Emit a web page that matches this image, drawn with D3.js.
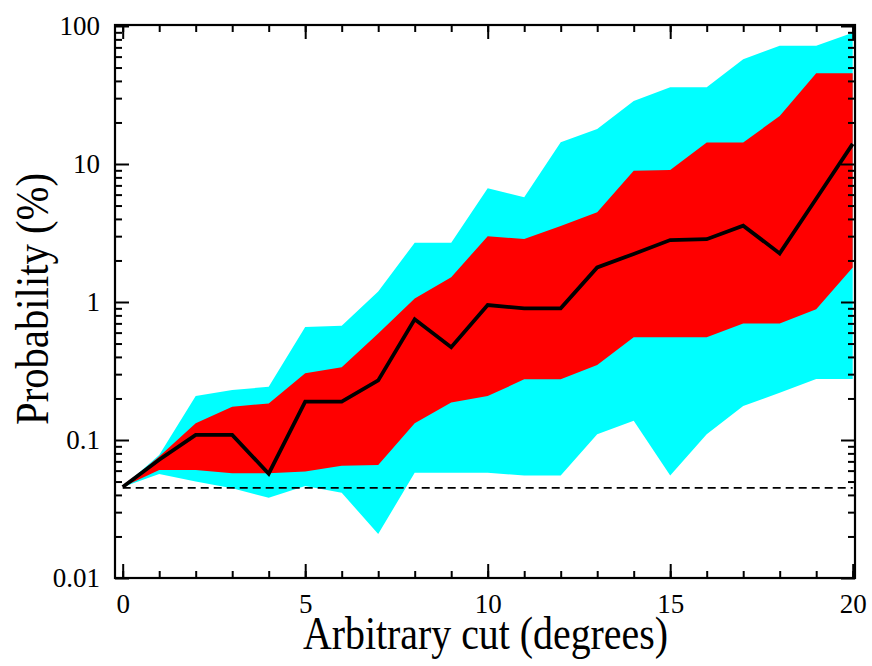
<!DOCTYPE html>
<html>
<head>
<meta charset="utf-8">
<script src="https://cdn.jsdelivr.net/npm/d3@7"></script>
<style>
  html, body { margin: 0; padding: 0; background: #fff; }
  svg text { font-family: "Liberation Serif", "Times New Roman", serif; fill: #000; }
</style>
</head>
<body>
<svg id="chart" width="872" height="666" font-family="Liberation Serif, serif"></svg>
<script>
// ---- data ----
const cuts        = [0,1,2,3,4,5,6,7,8,9,10,11,12,13,14,15,16,17,18,19,20];
const median      = [0.0457,0.072,0.109,0.109,0.057,0.19,0.19,0.27,0.75,0.47,0.95,0.90,0.90,1.78,2.23,2.81,2.85,3.57,2.25,5.6,14.0];
const redUpper    = [0.0457,0.076,0.132,0.174,0.184,0.304,0.336,0.59,1.06,1.51,3.0,2.86,3.55,4.47,8.95,9.05,14.3,14.3,22.3,45.4,45.4];
const redLower    = [0.0457,0.0606,0.0606,0.0574,0.0574,0.059,0.065,0.066,0.132,0.187,0.208,0.275,0.275,0.35,0.555,0.555,0.555,0.70,0.70,0.885,1.78];
const cyanUpper   = [0.0457,0.078,0.208,0.23,0.243,0.66,0.673,1.19,2.69,2.69,6.67,5.74,14.4,17.9,28.6,36.0,36.0,57.4,72.0,72.0,89.4];
const cyanLower   = [0.0457,0.0567,0.050,0.0447,0.0382,0.0464,0.0415,0.0208,0.058,0.058,0.058,0.0552,0.0552,0.11,0.138,0.0552,0.11,0.176,0.22,0.277,0.277];
const baseline    = 0.045;
const xMajorTicks = [0,5,10,15,20];
const xMinorTicks = cuts;
const yMajorTicks = [0.01,0.1,1,10,100];
const yTickLabels = ["0.01","0.1","1","10","100"];
const xTitle = "Arbitrary cut (degrees)";
const yTitle = "Probability (%)";

// ---- layout ----
const frame = {left:115, right:855, top:25, bottom:578};
const svg = d3.select("#chart");
const FONT = "Liberation Serif, Times New Roman, serif";

const x = d3.scaleLinear().domain([0,20]).range([122.7,852.7]);
const y = d3.scaleLog().domain([0.01,100]).range([578,26]);

const rows = cuts.map((c,i)=>({c, med:median[i], ru:redUpper[i], rl:redLower[i], cu:cyanUpper[i], cl:cyanLower[i]}));

const cyanArea = d3.area().x(d=>x(d.c)).y0(d=>y(d.cl)).y1(d=>y(d.cu));
const redArea  = d3.area().x(d=>x(d.c)).y0(d=>y(d.rl)).y1(d=>y(d.ru));
const medLine  = d3.line().x(d=>x(d.c)).y(d=>y(d.med));

svg.append("path").datum(rows).attr("d",cyanArea).attr("fill","#00ffff");
svg.append("path").datum(rows).attr("d",redArea).attr("fill","#ff0000");

svg.append("line")
  .attr("x1",x(0)).attr("x2",x(20))
  .attr("y1",y(baseline)).attr("y2",y(baseline))
  .attr("stroke","#000").attr("stroke-width",1.6).attr("stroke-dasharray","8,5");

svg.append("path").datum(rows).attr("d",medLine)
  .attr("fill","none").attr("stroke","#000").attr("stroke-width",3.8)
  .attr("stroke-linejoin","miter");

// ---- axes ----
const yMinorTicks = [];
[0.01,0.1,1,10].forEach(d=>{ for(let k=2;k<=9;k++) yMinorTicks.push(d*k); });

function styleAxis(g){
  g.attr("font-family",FONT);
  g.select(".domain").remove();
  g.selectAll(".tick line").attr("stroke","#000").attr("stroke-width",2);
  g.selectAll(".tick text").attr("font-size",27).attr("font-family",FONT);
}

// bottom
svg.append("g").attr("transform",`translate(0,${frame.bottom})`)
  .call(d3.axisBottom(x).tickValues(xMinorTicks).tickSizeInner(-7).tickSizeOuter(0).tickFormat(""))
  .call(styleAxis);
svg.append("g").attr("transform",`translate(0,${frame.bottom})`)
  .call(d3.axisBottom(x).tickValues(xMajorTicks).tickSizeInner(-14).tickSizeOuter(0).tickPadding(16).tickFormat(d3.format("d")))
  .call(styleAxis);
// top
svg.append("g").attr("transform",`translate(0,${frame.top})`)
  .call(d3.axisTop(x).tickValues(xMinorTicks).tickSizeInner(-7).tickSizeOuter(0).tickFormat(""))
  .call(styleAxis);
svg.append("g").attr("transform",`translate(0,${frame.top})`)
  .call(d3.axisTop(x).tickValues(xMajorTicks).tickSizeInner(-14).tickSizeOuter(0).tickFormat(""))
  .call(styleAxis);
// left
svg.append("g").attr("transform",`translate(${frame.left},0)`)
  .call(d3.axisLeft(y).tickValues(yMinorTicks).tickSizeInner(-7).tickSizeOuter(0).tickFormat(""))
  .call(styleAxis);
svg.append("g").attr("transform",`translate(${frame.left},0)`)
  .call(d3.axisLeft(y).tickValues(yMajorTicks).tickSizeInner(-14).tickSizeOuter(0).tickPadding(15)
        .tickFormat((d,i)=>yTickLabels[i]))
  .call(styleAxis);
// right
svg.append("g").attr("transform",`translate(${frame.right},0)`)
  .call(d3.axisRight(y).tickValues(yMinorTicks).tickSizeInner(-7).tickSizeOuter(0).tickFormat(""))
  .call(styleAxis);
svg.append("g").attr("transform",`translate(${frame.right},0)`)
  .call(d3.axisRight(y).tickValues(yMajorTicks).tickSizeInner(-14).tickSizeOuter(0).tickFormat(""))
  .call(styleAxis);

// frame
svg.append("rect")
  .attr("x",frame.left).attr("y",frame.top)
  .attr("width",frame.right-frame.left).attr("height",frame.bottom-frame.top)
  .attr("fill","none").attr("stroke","#000").attr("stroke-width",2.2);

// titles (the reference uses a tall, horizontally condensed serif)
svg.append("text").attr("x",485.5).attr("y",649).attr("text-anchor","middle")
  .attr("font-family",FONT).attr("font-size",46)
  .attr("textLength",365).attr("lengthAdjust","spacingAndGlyphs")
  .text(xTitle);
svg.append("text").attr("transform","translate(48,299) rotate(-90)").attr("text-anchor","middle")
  .attr("font-family",FONT).attr("font-size",46)
  .attr("textLength",252).attr("lengthAdjust","spacingAndGlyphs")
  .text(yTitle);
</script>
</body>
</html>
